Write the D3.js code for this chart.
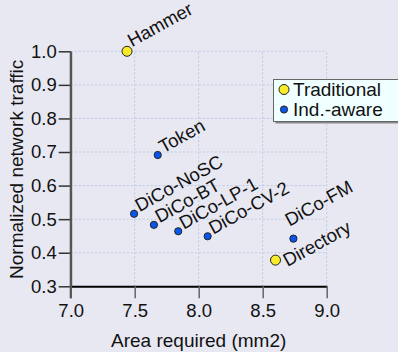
<!DOCTYPE html>
<html>
<head>
<meta charset="utf-8">
<script src="https://cdn.jsdelivr.net/npm/d3@7"></script>
<style>
  html, body { margin: 0; padding: 0; background: #e8e8f2; }
  svg { display: block; font-family: "Liberation Sans", Arial, sans-serif; }
</style>
</head>
<body>
<svg id="chart" width="398" height="352"></svg>
<script>
// data
var names  = ['Hammer', 'Token', 'DiCo-NoSC', 'DiCo-BT', 'DiCo-LP-1', 'DiCo-CV-2', 'DiCo-FM', 'Directory'];
var area   = [7.44, 7.68, 7.495, 7.65, 7.84, 8.07, 8.74, 8.60];
var traffic = [1.0, 0.691, 0.516, 0.483, 0.464, 0.449, 0.442, 0.378];
var kinds  = ['Traditional', 'Ind.-aware', 'Ind.-aware', 'Ind.-aware', 'Ind.-aware', 'Ind.-aware', 'Ind.-aware', 'Traditional'];
var xTicks = [7.0, 7.5, 8.0, 8.5, 9.0];
var yTicks = [0.3, 0.4, 0.5, 0.6, 0.7, 0.8, 0.9, 1.0];
var legendKeys = ['Traditional', 'Ind.-aware'];

var fill = {'Traditional': '#f8ec2a', 'Ind.-aware': '#0a55ee'};
var radius = {'Traditional': 5, 'Ind.-aware': 3.6};

// label placement tweaks (dx, dy from the point)
var labelOffset = function (name) {
  if (name === 'DiCo-FM') { return [-4, -12]; }
  if (name === 'Directory') { return [12, 7]; }
  if (name === 'Hammer') { return [5, -4]; }
  return [5.5, -1.5];
};

var margin = {top: 51.3, left: 70.7},
    width = 256,
    height = 235;

var svg = d3.select('#chart');
var g = svg.append('g').attr('transform', 'translate(' + margin.left + ',' + margin.top + ')');

var x = d3.scaleLinear().domain([7, 9]).range([0, width]);
var y = d3.scaleLinear().domain([0.3, 1.0]).range([height, 0]);

// grid
g.append('g').selectAll('line.vg')
    .data(xTicks.slice(1))
  .enter().append('line')
    .attr('x1', function (d) { return x(d); })
    .attr('x2', function (d) { return x(d); })
    .attr('y1', y(0.3))
    .attr('y2', y(1.0))
    .attr('stroke', '#b9c9e2')
    .attr('stroke-width', 1)
    .attr('stroke-dasharray', '2,2');
g.append('g').selectAll('line.hg')
    .data(yTicks.slice(1))
  .enter().append('line')
    .attr('x1', x(7))
    .attr('x2', x(9))
    .attr('y1', function (d) { return y(d); })
    .attr('y2', function (d) { return y(d); })
    .attr('stroke', '#b9c9e2')
    .attr('stroke-width', 1)
    .attr('stroke-dasharray', '2,2');

// axes
var yAxis = g.append('g')
    .call(d3.axisLeft(y).tickValues(yTicks).tickFormat(d3.format('.1f')).tickSize(12).tickSizeOuter(0).tickPadding(2));
var xAxis = g.append('g')
    .attr('transform', 'translate(0,' + height + ')')
    .call(d3.axisBottom(x).tickValues(xTicks).tickFormat(d3.format('.1f')).tickSize(12).tickSizeOuter(0).tickPadding(6));

yAxis.select('.domain').attr('stroke', '#555').attr('stroke-width', 2);
yAxis.selectAll('.tick line').attr('stroke', '#333').attr('stroke-width', 1.5);
xAxis.select('.domain').attr('stroke', '#000').attr('stroke-width', 2);
xAxis.selectAll('.tick line').attr('stroke', '#666').attr('stroke-width', 1.5);
[yAxis, xAxis].forEach(function (a) {
  a.selectAll('.tick text')
      .attr('font-size', 18.5)
      .attr('font-family', '"Liberation Sans", Arial, sans-serif')
      .attr('fill', '#111');
});
// the left axis line runs down through the 7.0 tick
g.append('line')
    .attr('x1', 0).attr('x2', 0)
    .attr('y1', 0).attr('y2', height + 12)
    .attr('stroke', '#555').attr('stroke-width', 2);

// points
var pts = names.map(function (n, i) { return {name: n, x: area[i], y: traffic[i], kind: kinds[i]}; });

var pg = g.selectAll('.pt')
    .data(pts)
  .enter().append('g')
    .attr('class', 'pt')
    .attr('transform', function (d) { return 'translate(' + x(d.x) + ',' + y(d.y) + ')'; });

pg.append('circle')
    .attr('r', function (d) { return radius[d.kind]; })
    .attr('fill', function (d) { return fill[d.kind]; })
    .attr('stroke', '#222')
    .attr('stroke-width', 1);

pg.append('text')
    .text(function (d) { return d.name; })
    .attr('font-size', 18.5)
    .attr('fill', '#111')
    .attr('transform', function (d) {
      var o = labelOffset(d.name);
      return 'translate(' + o[0] + ',' + o[1] + ') rotate(-29)';
    });

// axis titles
svg.append('text')
    .text('Area required (mm2)')
    .attr('x', margin.left + width / 2)
    .attr('y', 347)
    .attr('text-anchor', 'middle')
    .attr('font-size', 19)
    .attr('fill', '#111');
svg.append('text')
    .text('Normalized network traffic')
    .attr('transform', 'translate(23,' + (margin.top + height / 2 + 0.5) + ') rotate(-90)')
    .attr('text-anchor', 'middle')
    .attr('font-size', 19)
    .attr('fill', '#111');

// legend
var lg = svg.append('g').attr('transform', 'translate(273.5,79.5)');
lg.append('rect')
    .attr('x', 2).attr('y', 2)
    .attr('width', 140).attr('height', 42)
    .attr('fill', '#888');
lg.append('rect')
    .attr('width', 140).attr('height', 42)
    .attr('fill', '#f0ffff')
    .attr('stroke', '#666')
    .attr('stroke-width', 1);
var li = lg.selectAll('.li')
    .data(legendKeys)
  .enter().append('g')
    .attr('transform', function (d, i) { return 'translate(10.5,' + (10 + i * 20) + ')'; });
li.append('circle')
    .attr('r', function (d) { return radius[d]; })
    .attr('fill', function (d) { return fill[d]; })
    .attr('stroke', '#222')
    .attr('stroke-width', 1);
li.append('text')
    .text(function (d) { return d; })
    .attr('x', 9)
    .attr('dy', '0.36em')
    .attr('font-size', 19)
    .attr('fill', '#111');
</script>
</body>
</html>
